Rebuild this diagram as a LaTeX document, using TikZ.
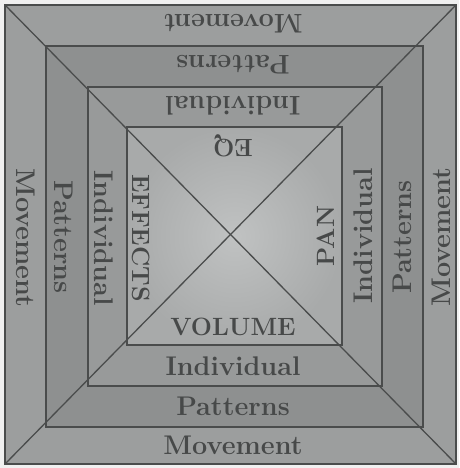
\documentclass[tikz,border=0pt]{standalone}
\usetikzlibrary{calc}
\definecolor{figline}{HTML}{4A4C4C}
\definecolor{figtext}{HTML}{474949}
\definecolor{bandA}{HTML}{9C9E9E}
\definecolor{bandB}{HTML}{8E9090}
\definecolor{bandC}{HTML}{989A9A}
\definecolor{coreA}{HTML}{C0C2C2}
\definecolor{coreB}{HTML}{A8AAAA}
\tikzset{
  fig/.style={font=\bfseries},
  edge/.style={draw=figline,line width=1.3pt},
  band/.style={text=figtext,inner sep=1pt,font=\fontsize{27}{30}\selectfont\bfseries},
  core/.style={band,font=\fontsize{25}{28}\selectfont\bfseries},
}

\begin{document}
\begin{tikzpicture}[fig,x=1pt,y=-1pt]
\useasboundingbox (0,0) rectangle (459,468);
\fill[gray!12] (0,0) rectangle (459,468);

% corners of the four frames (top left / bottom right)
\coordinate (m1) at (5,5);     \coordinate (m2) at (456,464);
\coordinate (p1) at (46,46);   \coordinate (p2) at (423,427);
\coordinate (i1) at (88,87);   \coordinate (i2) at (382,386);
\coordinate (c1) at (127,127); \coordinate (c2) at (342,345);

\fill[bandA] (m1) rectangle (m2);
\fill[bandB] (p1) rectangle (p2);
\fill[bandC] (i1) rectangle (i2);
\shade[inner color=coreA,outer color=coreB] (c1) rectangle (c2);

\draw[edge] (m1) rectangle (m2);
\draw[edge] (p1) rectangle (p2);
\draw[edge] (i1) rectangle (i2);
\draw[edge] (c1) rectangle (c2);
\draw[edge] (m1) -- (m2);
\draw[edge] (m1 |- m2) -- (m2 |- m1);

% ======================= bottom =======================
\node[band] (bm) at (233,445) {Movement};
\node[band] (bp) at (233,406) {Patterns};
\node[band] (bi) at (233,366) {Individual};
\node[core] (vol) at (233,327) {VOLUME};

% ======================= top ==========================
\node[band,rotate=180] (tm) at (233,24) {Movement};
\node[band,rotate=180] (tp) at (233,65) {Patterns};
\node[band,rotate=180] (ti) at (233,106) {Individual};
\node[core,rotate=180] (eq) at (233,146) {EQ};

% ======================= left =========================
\node[band,rotate=-90] (lm) at (26,238) {Movement};
\node[band,rotate=-90] (lp) at (64,237) {Patterns};
\node[band,rotate=-90] (li) at (104,238) {Individual};
\node[core,rotate=-90] (fx) at (141,238) {EFFECTS};

% ======================= right ========================
\node[band,rotate=90] (rm) at (441,237) {Movement};
\node[band,rotate=90] (rp) at (402,237) {Patterns};
\node[band,rotate=90] (ri) at (363,236) {Individual};
\node[core,rotate=90] (pan) at (326,236) {PAN};

\end{tikzpicture}
\end{document}
